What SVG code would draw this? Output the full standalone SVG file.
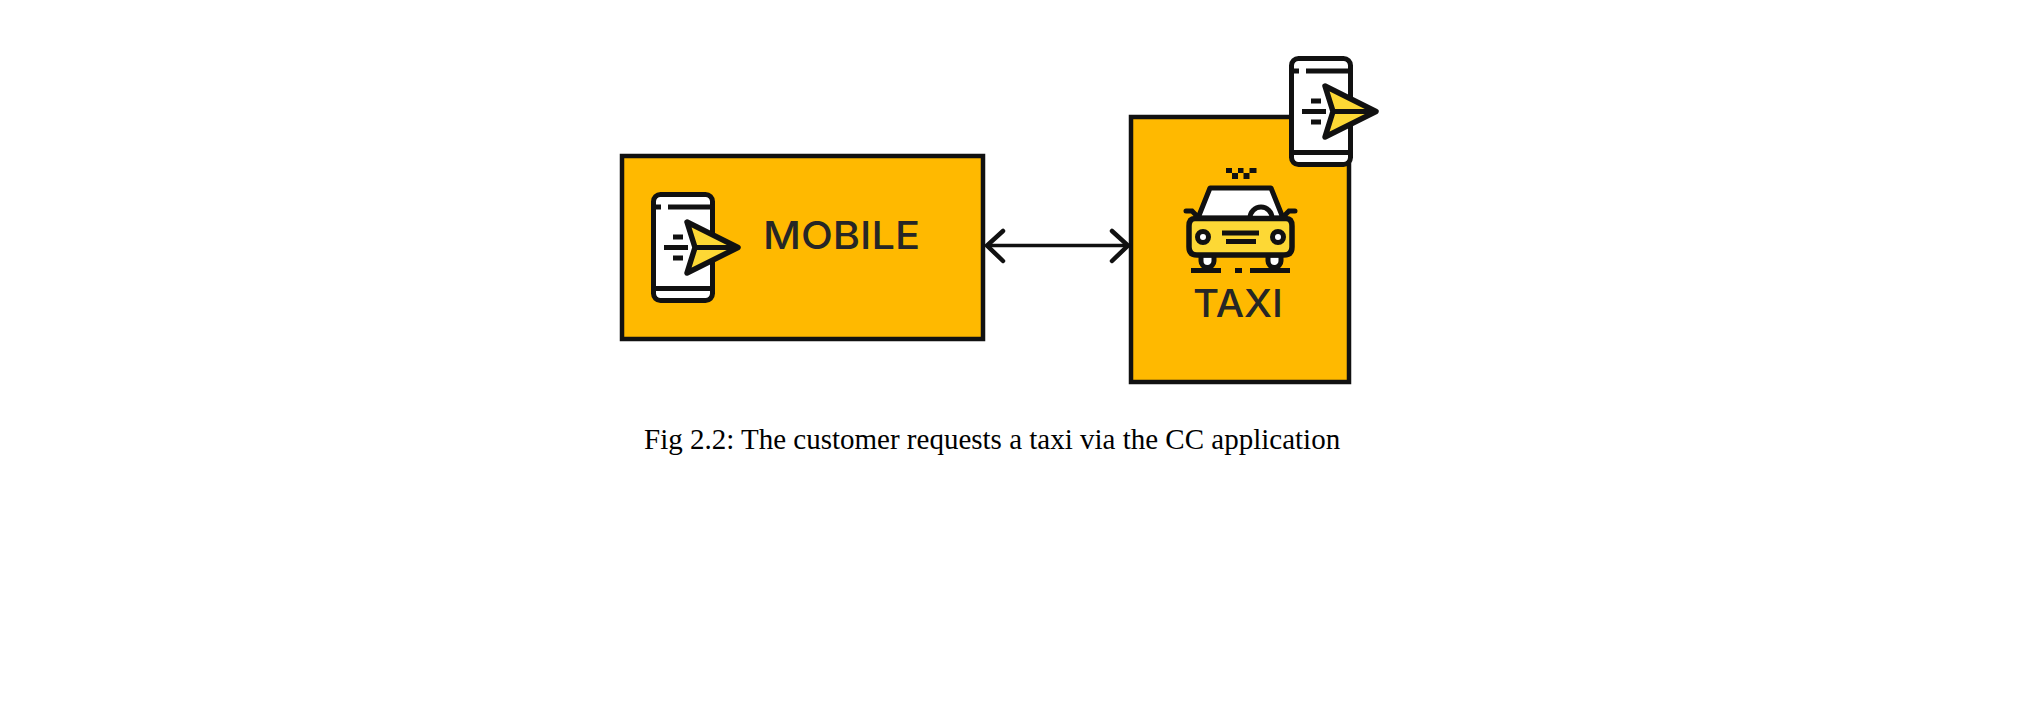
<svg xmlns="http://www.w3.org/2000/svg" xmlns:xlink="http://www.w3.org/1999/xlink" width="2026" height="701" viewBox="0 0 2026 701">
<style>
.box{fill:#ffb900;stroke:#111;stroke-width:4.5}
.ic{fill:none;stroke:#111;stroke-width:5}
.wh{fill:#fff;stroke:#111;stroke-width:5}
.ye{fill:#fdd835;stroke:#111;stroke-width:5.500;stroke-linejoin:round}
.lbl{font-family:"Inter","Noto Sans",sans-serif;font-weight:500;font-size:38.500px;fill:#262626}
.cap{font-family:"Liberation Serif","Times New Roman",serif;font-size:29px;fill:#000}
.conn{fill:none;stroke:#111;stroke-width:3.500}
.head{fill:none;stroke:#111;stroke-width:4.500;stroke-linecap:round;stroke-linejoin:miter}
</style>
<defs>
<g id="phone">
<rect class="wh" x="2.500" y="2.500" width="59" height="106" rx="7"/>
<path class="ic" d="M1 15H10M17 15H63M1 96.500H63M22 45H32M13 55.500H37M22 66H32"/>
<path class="ye" d="M36 30L87 55.500L36 81L44 55.500Z"/>
<path class="ic" d="M44 55.500H85"/>
</g>
</defs>
<rect width="2026" height="701" fill="#fff"/>
<g id="mobile">
<rect class="box" x="622" y="156" width="361" height="183"/>
<use xlink:href="#phone" href="#phone" x="651" y="192"/>
<text class="lbl" x="763" y="249" textLength="157" lengthAdjust="spacingAndGlyphs">MOBILE</text>
</g>
<g id="taxi">
<rect class="box" x="1131" y="117" width="218" height="265"/>
<use xlink:href="#phone" href="#phone" x="1289" y="56"/>
<path fill="#111" d="M1226 168h6v5h6v6h-6v-6h-6zM1238 168h5.500v5h6v-5h7v5h-7v6h-6v-6h-5.500z"/>
<path class="wh" stroke-linejoin="round" d="M1198 218L1210 188H1271L1283 218Z"/>
<path class="wh" d="M1250 218a11 11 0 0 1 22 0"/>
<path class="ic" stroke-linecap="round" d="M1186 211H1192L1198 217M1295 211H1289L1283 217"/>
<path class="wh" d="M1201 255v6a6.500 6.500 0 0 0 13 0v-6zM1268 255v6a6.500 6.500 0 0 0 13 0v-6z"/>
<path class="ye" d="M1195 218.500H1286Q1292 218.500 1292 226V247Q1292 255 1284 255H1197Q1189 255 1189 247V226Q1189 218.500 1195 218.500Z"/>
<circle class="wh" cx="1203" cy="237" r="5.500"/>
<circle class="wh" cx="1278" cy="237" r="5.500"/>
<path class="ic" d="M1222 233H1259M1226 241.500H1256"/>
<path fill="none" stroke="#111" stroke-width="5" d="M1191 270.500H1221M1235 270.500H1242M1250 270.500H1290"/>
<text class="lbl" x="1193" y="317" textLength="90" lengthAdjust="spacingAndGlyphs">TAXI</text>
</g>
<g id="connectors">
<path class="conn" d="M987 245.500H1128"/>
<path class="head" d="M1003 231L987 245.500L1003 261M1112 231L1128 245.500L1112 261"/>
</g>
<text class="cap" x="644" y="449">Fig 2.2: The customer requests a taxi via the CC application</text>
</svg>
